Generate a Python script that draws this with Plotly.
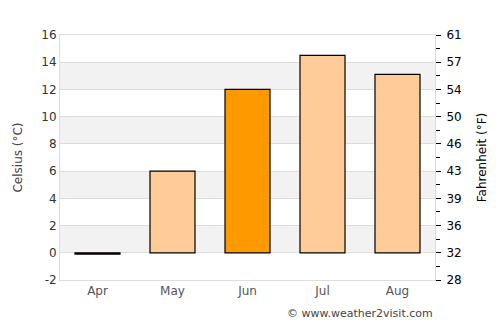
import plotly.graph_objects as go

months = ["Apr", "May", "Jun", "Jul", "Aug"]
celsius = [-0.1, 6, 12, 14.5, 13.1]
bar_colors = ["#FFCC99", "#FFCC99", "#FF9900", "#FFCC99", "#FFCC99"]
c_ticks = [-2, 0, 2, 4, 6, 8, 10, 12, 14, 16]
c_labels = [str(c) for c in c_ticks]
f_labels = [str(round(c * 9 / 5 + 32)) for c in c_ticks]

fig = go.Figure()
fig.add_trace(go.Bar(x=months, y=celsius, marker=dict(color=bar_colors, line=dict(color="black", width=1.2)),
                     width=0.6, hoverinfo="y"))
fig.add_trace(go.Scatter(x=months, y=celsius, yaxis="y2", mode="markers", marker=dict(opacity=0),
                         hoverinfo="skip", showlegend=False))

shapes = []
for i in range(len(c_ticks) - 1):
    if c_ticks[i] in (0, 4, 8, 12):
        shapes.append(dict(type="rect", xref="paper", yref="y", x0=0, x1=1, y0=c_ticks[i], y1=c_ticks[i + 1],
                           fillcolor="#F2F2F2", line=dict(width=0), layer="below"))

fig.update_layout(
    width=500, height=325, margin=dict(l=60, r=65, t=35, b=45),
    paper_bgcolor="white", plot_bgcolor="white", showlegend=False,
    font=dict(family="DejaVu Sans", size=12, color="#444"),
    shapes=shapes,
    xaxis=dict(showline=True, linecolor="#DDDDDD", mirror=True, ticks="", tickfont=dict(size=12, color="#555")),
    yaxis=dict(range=[-2, 16], tickvals=c_ticks, ticktext=c_labels, showgrid=True, gridcolor="#DDDDDD",
               zeroline=False, showline=True, linecolor="#DDDDDD", mirror=True, ticks="",
               title=dict(text="Celsius (°C)", font=dict(size=12, color="#444"), standoff=16),
               tickfont=dict(size=12, color="#333")),
    yaxis2=dict(range=[-2, 16], overlaying="y", side="right", tickvals=c_ticks, ticktext=f_labels,
                showgrid=False, zeroline=False, ticks="outside", ticklen=5, tickcolor="black",
                ticklabelstandoff=3,
                minor=dict(tickvals=[-1, 1, 3, 5, 7, 9, 11, 13, 15], ticks="outside", ticklen=4, tickcolor="black"),
                title=dict(text="Fahrenheit (°F)", font=dict(size=12, color="black"), standoff=16),
                tickfont=dict(size=12, color="black")),
    annotations=[dict(text="© www.weather2visit.com", xref="paper", yref="paper", x=1, y=0, yshift=-42,
                      xanchor="right", yanchor="bottom", showarrow=False, font=dict(size=11, color="#444"))],
)
fig.write_html("out.html")
